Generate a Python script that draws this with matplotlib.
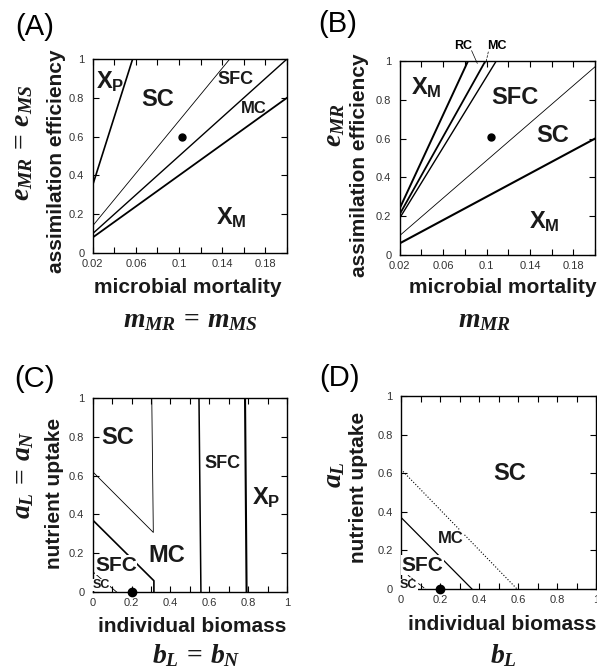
import numpy as np
import matplotlib.pyplot as plt

plt.rcParams['font.family'] = ['Liberation Sans', 'DejaVu Sans']
plt.rcParams['mathtext.fontset'] = 'custom'
plt.rcParams['mathtext.it'] = 'Liberation Serif:italic:bold'
plt.rcParams['mathtext.rm'] = 'Liberation Serif:bold'
plt.rcParams['mathtext.bf'] = 'Liberation Sans:bold'

W, H = 597, 669

# ---- data ----
# panel A: boundary lines (x0, y0, x1, y1) and line widths
A_lines = [(0.02, 0.35, 0.057, 1.0), (0.02, 0.14, 0.147, 1.0),
           (0.02, 0.10, 0.20, 1.0), (0.02, 0.08, 0.20, 0.80)]
A_lw = [1.2, 0.6, 1.0, 1.3]
A_dot = (0.103, 0.596)
A_regions = [('X$_{\\mathbf{P}}$', 0.036, 0.884, 17), ('SC', 0.080, 0.789, 17),
             ('SFC', 0.152, 0.892, 13), ('MC', 0.169, 0.747, 12),
             ('X$_{\\mathbf{M}}$', 0.148, 0.180, 17)]

# panel B
B_lines = [(0.02, 0.24, 0.083, 1.0), (0.02, 0.21, 0.099, 1.0),
           (0.02, 0.19, 0.109, 1.0), (0.02, 0.10, 0.20, 0.97),
           (0.02, 0.06, 0.20, 0.60)]
B_lw = [1.4, 1.3, 1.0, 0.6, 1.5]
B_dot = (0.104, 0.606)
B_regions = [('X$_{\\mathbf{M}}$', 0.045, 0.863, 17), ('SFC', 0.126, 0.810, 17),
             ('SC', 0.161, 0.614, 17), ('X$_{\\mathbf{M}}$', 0.153, 0.170, 17)]

# panel C: polylines
C_lines = [([0.0, 0.312, 0.304], [0.62, 0.307, 1.0]),
           ([0.0, 0.315, 0.315], [0.371, 0.058, 0.0]),
           ([0.0, 0.123], [0.105, 0.0]),
           ([0.547, 0.557], [1.0, 0.0]),
           ([0.784, 0.792], [1.0, 0.0])]
C_lw = [0.6, 1.2, 0.6, 1.1, 1.5]
C_dot = (0.2, 0.0)
C_regions = [('SC', 0.128, 0.796, 17), ('SFC', 0.668, 0.663, 13),
             ('X$_{\\mathbf{P}}$', 0.895, 0.483, 17), ('MC', 0.381, 0.187, 17),
             ('SFC', 0.120, 0.139, 15), ('SC', 0.043, 0.036, 9)]

# panel D
D_lines = [([0.0, 0.595], [0.62, 0.0]), ([0.0, 0.364], [0.371, 0.0]),
           ([0.0, 0.125], [0.10, 0.0])]
D_ls = [':', '-', '--']
D_lw = [0.8, 0.9, 0.6]
D_dot = (0.2, 0.0)
D_regions = [('SC', 0.556, 0.596, 17), ('MC', 0.253, 0.263, 12),
             ('SFC', 0.112, 0.124, 15), ('SC', 0.039, 0.021, 9)]

mort_ticks = np.round(np.arange(0.02, 0.2001, 0.02), 2)
mort_labels = ['0.02', '', '0.06', '', '0.1', '', '0.14', '', '0.18', '']
bio_ticks = np.round(np.arange(0, 1.001, 0.1), 1)
bio_labels = ['0', '', '0.2', '', '0.4', '', '0.6', '', '0.8', '', '1']
y_ticks = [0, 0.2, 0.4, 0.6, 0.8, 1.0]
y_labels = ['0', '0.2', '0.4', '0.6', '0.8', '1']


def px_ax(fig, l, t, r, b):
    return fig.add_axes([l / W, 1 - b / H, (r - l) / W, (b - t) / H])


def ftext(fig, x, y, s, **kw):
    fig.text(x / W, 1 - y / H, s, ha='center', va='center', **kw)


def style(ax, xt, xl, xlim):
    ax.set_xlim(xlim)
    ax.set_ylim(0, 1)
    ax.set_xticks(xt)
    ax.set_xticklabels(xl)
    ax.set_yticks(y_ticks)
    ax.set_yticklabels(y_labels)
    ax.tick_params(direction='in', length=4, width=0.8, top=True, right=True,
                   labelsize=8, labelcolor='#333333')
    ax.tick_params(axis='x', pad=4)
    ax.tick_params(axis='y', pad=6)
    for s in ax.spines.values():
        s.set_linewidth(1.0)


def regions(ax, regs, box=False):
    for s, x, y, fs in regs:
        kw = {}
        if box:
            kw['bbox'] = dict(facecolor='white', edgecolor='none', pad=0.3)
        ax.text(x, y, s, fontsize=fs, fontweight='bold', ha='center', va='center',
                color='#1a1a1a', **kw)


fig = plt.figure(figsize=(W / 100, H / 100), dpi=100)

# (A)
ax = px_ax(fig, 92.7, 59, 287, 253)
style(ax, mort_ticks, mort_labels, (0.02, 0.2))
for (x0, y0, x1, y1), lw in zip(A_lines, A_lw):
    ax.plot([x0, x1], [y0, y1], color='k', lw=lw)
ax.plot(*A_dot, 'o', color='k', ms=5)
regions(ax, A_regions)

# (B)
ax = px_ax(fig, 399.7, 61, 595, 255)
style(ax, mort_ticks, mort_labels, (0.02, 0.2))
for (x0, y0, x1, y1), lw in zip(B_lines, B_lw):
    ax.plot([x0, x1], [y0, y1], color='k', lw=lw)
ax.plot(*B_dot, 'o', color='k', ms=5)
regions(ax, B_regions)
ax.text(0.0785, 1.077, 'RC', fontsize=9, fontweight='bold', ha='center', va='center')
ax.text(0.1097, 1.077, 'MC', fontsize=9, fontweight='bold', ha='center', va='center')
ax.plot([0.0863, 0.0915], [1.053, 0.988], color='k', lw=0.5, clip_on=False)
ax.plot([0.1017, 0.0993], [1.048, 0.988], color='k', lw=0.5, ls='--', clip_on=False)

# (C)
ax = px_ax(fig, 92.7, 398, 287, 592)
style(ax, bio_ticks, bio_labels, (0, 1))
for (xs, ys), lw in zip(C_lines, C_lw):
    ax.plot(xs, ys, color='k', lw=lw)
ax.plot(*C_dot, 'o', color='k', ms=6, clip_on=False, zorder=5)
regions(ax, C_regions, box=True)

# (D)
ax = px_ax(fig, 401, 396, 596, 589)
style(ax, bio_ticks, bio_labels, (0, 1))
for (xs, ys), ls, lw in zip(D_lines, D_ls, D_lw):
    ax.plot(xs, ys, color='k', lw=lw, ls=ls)
ax.plot(*D_dot, 'o', color='k', ms=6, clip_on=False, zorder=5)
regions(ax, D_regions, box=True)

# panel letters
for s, x, y in [('(A)', 35, 27), ('(B)', 338, 24), ('(C)', 35, 379), ('(D)', 340, 378)]:
    ftext(fig, x, y, s, fontsize=21)

# axis labels
lab = dict(fontsize=15, fontweight='bold', color='#1a1a1a')
ftext(fig, 188, 287, 'microbial mortality', **lab)
ftext(fig, 503, 287, 'microbial mortality', **lab)
ftext(fig, 192, 627, 'individual biomass', **lab)
ftext(fig, 502, 624, 'individual biomass', **lab)
ftext(fig, 57, 161, 'assimilation efficiency', rotation=90, **lab)
ftext(fig, 360, 165, 'assimilation efficiency', rotation=90, **lab)
ftext(fig, 55, 493, 'nutrient uptake', rotation=90, **lab)
ftext(fig, 359, 487, 'nutrient uptake', rotation=90, **lab)

mth = dict(fontsize=20, color='#1a1a1a')
ftext(fig, 190, 320, r'$m_{MR}\,=\,m_{MS}$', **mth)
ftext(fig, 485, 320, r'$m_{MR}$', **mth)
ftext(fig, 196, 656, r'$b_{L}\,=\,b_{N}$', **mth)
ftext(fig, 503, 656, r'$b_{L}$', **mth)
ftext(fig, 22, 143, r'$e_{MR}\,=\,e_{MS}$', rotation=90, **mth)
ftext(fig, 334, 125, r'$e_{MR}$', rotation=90, **mth)
ftext(fig, 23, 475, r'$a_{L}\,=\,a_{N}$', rotation=90, **mth)
ftext(fig, 334, 475, r'$a_{L}$', rotation=90, **mth)

fig.savefig('out.png', dpi=100)
